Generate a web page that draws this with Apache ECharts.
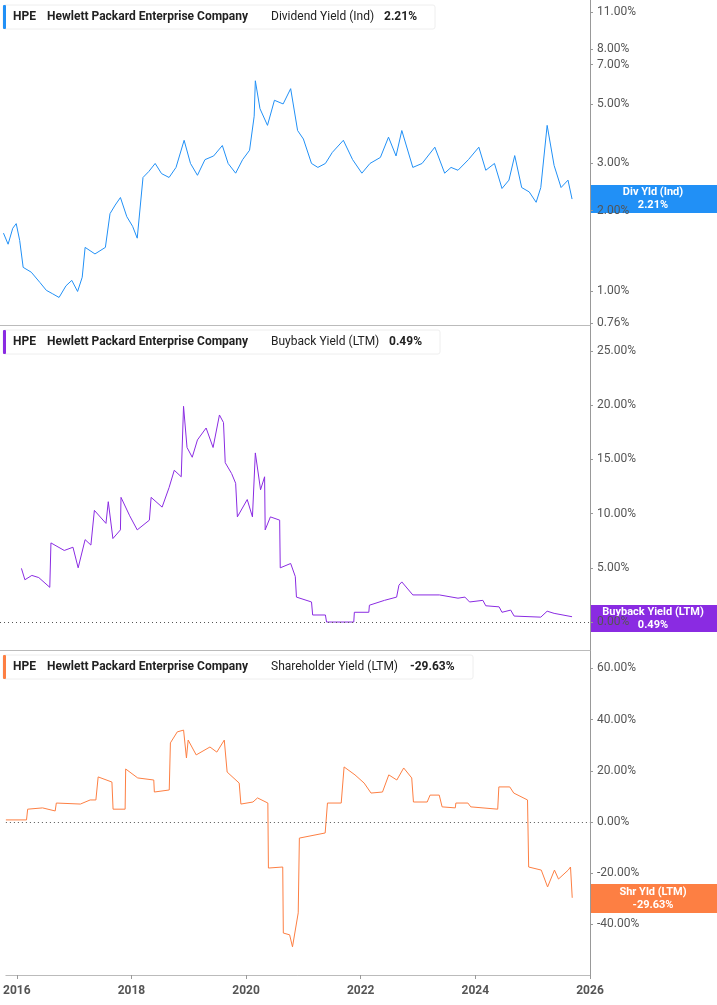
<!DOCTYPE html>
<html>
<head>
<meta charset="utf-8">
<script src="https://cdn.jsdelivr.net/npm/echarts@6/dist/echarts.min.js"></script>
<style>
  html, body { margin: 0; padding: 0; background: #fff; }
  #chart { width: 717px; height: 1005px; }
</style>
</head>
<body>
<div id="chart"></div>
<script>
// dividend yield (Ind), %
const divX = [2015.87, 2015.95, 2016.03, 2016.09, 2016.15, 2016.21, 2016.35, 2016.5, 2016.61, 2016.72, 2016.83, 2016.95, 2017.05, 2017.15, 2017.23, 2017.28, 2017.45, 2017.63, 2017.71, 2017.8, 2017.89, 2018.0, 2018.1, 2018.18, 2018.28, 2018.38, 2018.49, 2018.6, 2018.73, 2018.85, 2018.99, 2019.1, 2019.22, 2019.35, 2019.5, 2019.65, 2019.75, 2019.88, 2020.0, 2020.12, 2020.2, 2020.22, 2020.3, 2020.43, 2020.55, 2020.7, 2020.83, 2020.95, 2021.05, 2021.19, 2021.3, 2021.43, 2021.55, 2021.74, 2021.9, 2022.06, 2022.2, 2022.38, 2022.52, 2022.65, 2022.75, 2022.94, 2023.1, 2023.32, 2023.49, 2023.6, 2023.72, 2023.9, 2024.08, 2024.2, 2024.35, 2024.48, 2024.6, 2024.7, 2024.82, 2024.95, 2025.07, 2025.15, 2025.26, 2025.38, 2025.5, 2025.62, 2025.69];
const divY = [1.65, 1.5, 1.72, 1.79, 1.55, 1.23, 1.18, 1.08, 1.01, 0.98, 0.95, 1.05, 1.1, 1.0, 1.13, 1.46, 1.38, 1.46, 1.95, 2.1, 2.24, 1.9, 1.75, 1.58, 2.66, 2.8, 3.0, 2.75, 2.66, 2.9, 3.66, 3.0, 2.71, 3.1, 3.2, 3.5, 3.0, 2.76, 3.1, 3.36, 4.5, 6.1, 4.8, 4.16, 5.16, 5.0, 5.7, 3.98, 3.7, 3.0, 2.9, 3.0, 3.3, 3.66, 3.1, 2.76, 3.0, 3.16, 3.76, 3.2, 3.98, 2.9, 3.0, 3.45, 2.76, 2.9, 2.83, 3.1, 3.45, 2.83, 3.0, 2.42, 2.6, 3.21, 2.44, 2.35, 2.15, 2.44, 4.16, 2.95, 2.44, 2.6, 2.21];

// buyback yield (LTM), %
const bbX = [2016.18, 2016.24, 2016.36, 2016.48, 2016.67, 2016.69, 2016.92, 2017.07, 2017.16, 2017.28, 2017.38, 2017.44, 2017.64, 2017.68, 2017.76, 2017.89, 2017.9, 2018.05, 2018.18, 2018.39, 2018.42, 2018.61, 2018.73, 2018.82, 2018.94, 2018.98, 2019.04, 2019.13, 2019.22, 2019.37, 2019.49, 2019.6, 2019.67, 2019.7, 2019.81, 2019.88, 2019.91, 2020.08, 2020.17, 2020.22, 2020.31, 2020.38, 2020.39, 2020.48, 2020.64, 2020.65, 2020.83, 2020.91, 2020.93, 2021.19, 2021.21, 2021.43, 2021.45, 2021.92, 2021.93, 2022.18, 2022.19, 2022.45, 2022.66, 2022.7, 2022.75, 2022.94, 2023.4, 2023.72, 2023.84, 2023.92, 2024.15, 2024.2, 2024.43, 2024.48, 2024.63, 2024.69, 2025.15, 2025.26, 2025.38, 2025.69];
const bbY = [4.95, 3.9, 4.3, 4.1, 3.2, 7.3, 6.6, 6.9, 5.0, 7.6, 7.1, 10.3, 9.1, 11.1, 7.7, 8.5, 11.5, 9.8, 8.5, 9.4, 11.5, 10.6, 12.4, 14.0, 13.4, 19.9, 16.1, 15.2, 16.8, 17.9, 16.1, 19.1, 18.4, 14.7, 13.7, 12.8, 9.7, 11.3, 9.7, 15.6, 12.2, 13.4, 8.5, 9.7, 9.4, 5.0, 5.4, 4.2, 2.3, 1.85, 0.65, 0.65, 0, 0, 0.9, 0.9, 1.55, 2.0, 2.3, 3.4, 3.7, 2.5, 2.5, 2.2, 2.3, 1.85, 2.0, 1.5, 1.4, 0.9, 1.1, 0.55, 0.45, 1.0, 0.8, 0.49];

// shareholder yield (LTM), %
const shX = [2015.81, 2016.17, 2016.19, 2016.45, 2016.67, 2016.69, 2017.11, 2017.28, 2017.38, 2017.42, 2017.66, 2017.68, 2017.89, 2017.9, 2018.11, 2018.39, 2018.4, 2018.66, 2018.68, 2018.8, 2018.91, 2018.96, 2018.99, 2019.13, 2019.37, 2019.49, 2019.62, 2019.67, 2019.88, 2019.91, 2020.12, 2020.2, 2020.38, 2020.39, 2020.64, 2020.65, 2020.76, 2020.81, 2020.91, 2020.93, 2021.38, 2021.42, 2021.66, 2021.71, 2021.9, 2022.06, 2022.18, 2022.38, 2022.49, 2022.63, 2022.75, 2022.89, 2022.92, 2023.16, 2023.21, 2023.37, 2023.42, 2023.65, 2023.66, 2023.87, 2023.92, 2024.39, 2024.41, 2024.6, 2024.67, 2024.91, 2024.93, 2025.15, 2025.26, 2025.38, 2025.45, 2025.62, 2025.66, 2025.69];
const shY = [0.8, 0.8, 5.0, 5.5, 4.3, 7.4, 7.0, 8.6, 8.6, 17.6, 15.6, 5.0, 5.0, 20.7, 17.2, 16.4, 11.7, 12.5, 30.9, 35.2, 35.9, 25.0, 32.0, 26.2, 29.3, 27.3, 32.0, 19.5, 15.2, 7.0, 7.8, 9.4, 7.4, -18.0, -17.6, -43.4, -44.1, -48.8, -35.5, -6.3, -4.3, 7.4, 7.4, 21.5, 18.4, 15.2, 11.3, 11.7, 18.4, 16.4, 21.1, 17.2, 7.8, 7.8, 10.5, 10.5, 5.9, 5.5, 7.4, 7.4, 5.9, 5.0, 13.7, 13.7, 11.3, 8.6, -17.6, -18.8, -25.4, -18.8, -22.3, -18.8, -17.6, -29.63];

const yearTicks = [2016, 2018, 2020, 2022, 2024, 2026];
const divTicks = [0.76, 1, 2, 3, 5, 7, 8, 11];
const bbTicks = [0, 5, 10, 15, 20, 25];
const shTicks = [-40, -20, 0, 20, 40, 60];

const BLUE = '#2190f6', PURPLE = '#8a2be2', ORANGE = '#fd7f43';
const FONT = 'Roboto';

const chart = echarts.init(document.getElementById('chart'));

function xAxis(i, labels) {
  return {
    type: 'value', gridIndex: i, min: 2015.81, max: 2026.0,
    axisLine: { show: true, onZero: false, lineStyle: { color: '#bbb' } },
    axisTick: { show: labels, customValues: yearTicks, length: 4, lineStyle: { color: '#999' } },
    axisLabel: { show: labels, customValues: yearTicks, color: '#555', fontWeight: 'bold', fontSize: 12, fontFamily: FONT, margin: 10, formatter: v => String(v) },
    splitLine: { show: false }
  };
}
function yAxis(i, min, max, ticks, fmt) {
  return {
    type: 'value', gridIndex: i, position: 'right', min, max,
    axisLine: { show: true, lineStyle: { color: '#999' } },
    axisTick: { show: true, customValues: ticks, length: 3, inside: false, lineStyle: { color: '#999' } },
    axisLabel: { customValues: ticks, color: '#555', fontSize: 12, fontFamily: FONT, margin: 7, formatter: fmt },
    splitLine: { show: false }
  };
}
const pct = v => v.toFixed(2) + '%';
const zeroLine = {
  silent: true, symbol: 'none', label: { show: false },
  lineStyle: { type: [1, 3], color: '#555', width: 1 },
  data: [{ yAxis: 0 }]
};

function header(y, w, color, metric, value) {
  const t = (x, text, bold) => ({ type: 'text', x, y: y + 12, style: { text, fill: '#222', font: (bold ? 'bold ' : '') + '12px ' + FONT, textVerticalAlign: 'middle' } });
  return [
    { type: 'rect', shape: { x: 3, y, width: w, height: 24, r: 2 }, style: { fill: '#fff', stroke: '#eee' } },
    { type: 'rect', shape: { x: 3, y, width: 3, height: 24, r: 1 }, style: { fill: color } },
    t(13, 'HPE', true), t(47, 'Hewlett Packard Enterprise Company', true), t(271, metric, false), t(w - 48 + (value.length > 5 ? -12 : 0), value, true)
  ];
}
function endBox(y, h, color, l1, l2) {
  return [
    { type: 'rect', shape: { x: 590, y, width: 127, height: h }, style: { fill: color } },
    { type: 'text', x: 653, y: y + h / 2, style: { text: l1 + '\n' + l2, fill: '#fff', font: 'bold 11px ' + FONT, align: 'center', verticalAlign: 'middle', lineHeight: 13 } }
  ];
}

chart.setOption({
  animation: false,
  grid: [
    { left: 0, right: 127, top: 0, height: 325 },
    { left: 0, right: 127, top: 325, height: 325 },
    { left: 0, right: 127, top: 650, height: 325 }
  ],
  xAxis: [xAxis(0, false), xAxis(1, false), xAxis(2, true)],
  yAxis: [
    yAxis(0, Math.log10(0.75), Math.log10(12.2), divTicks.map(Math.log10), v => pct(Math.pow(10, v))),
    yAxis(1, -2.58, 27.4, bbTicks, pct),
    yAxis(2, -59.8, 67.2, shTicks, pct)
  ],
  series: [
    { type: 'line', xAxisIndex: 0, yAxisIndex: 0, symbol: 'none', lineStyle: { color: BLUE, width: 1 },
      data: divX.map((x, i) => [x, Math.log10(divY[i])]) },
    { type: 'line', xAxisIndex: 1, yAxisIndex: 1, symbol: 'none', lineStyle: { color: PURPLE, width: 1 },
      data: bbX.map((x, i) => [x, bbY[i]]), markLine: zeroLine },
    { type: 'line', xAxisIndex: 2, yAxisIndex: 2, symbol: 'none', lineStyle: { color: ORANGE, width: 1 },
      data: shX.map((x, i) => [x, shY[i]]), markLine: zeroLine }
  ],
  graphic: [
    ...header(5, 432, BLUE, 'Dividend Yield (Ind)', '2.21%'),
    ...header(330, 437, PURPLE, 'Buyback Yield (LTM)', '0.49%'),
    ...header(655, 470, ORANGE, 'Shareholder Yield (LTM)', '-29.63%'),
    ...endBox(185, 28, BLUE, 'Div Yld (Ind)', '2.21%'),
    ...endBox(605, 27, PURPLE, 'Buyback Yield (LTM)', '0.49%'),
    ...endBox(884, 29, ORANGE, 'Shr Yld (LTM)', '-29.63%')
  ]
});
</script>
</body>
</html>
